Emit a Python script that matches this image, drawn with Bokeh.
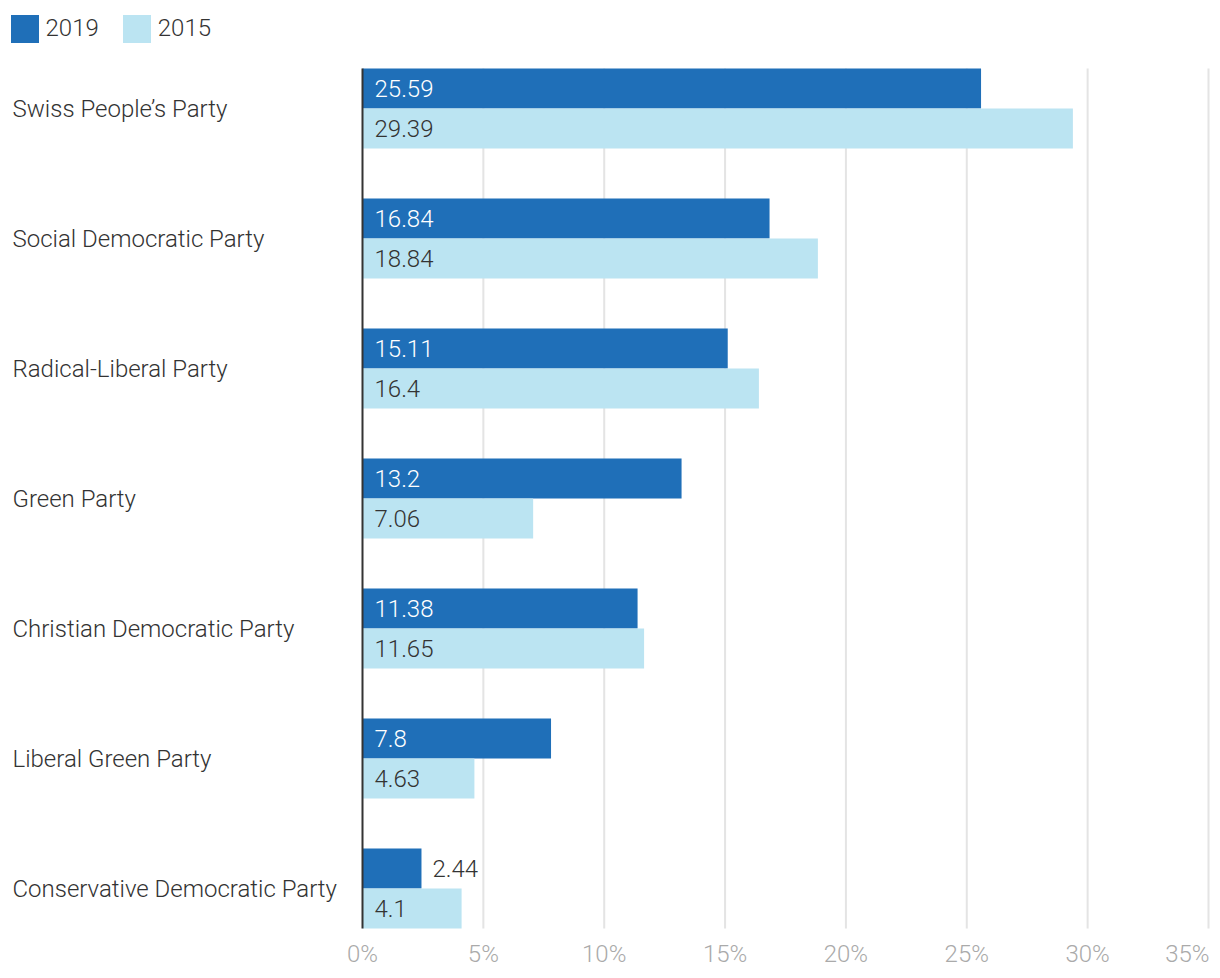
from bokeh.plotting import figure
from bokeh.models import ColumnDataSource, Legend, LegendItem, Range1d
from bokeh.core.properties import value
from bokeh.embed import file_html
from bokeh.resources import INLINE

# ---- data ----
parties = ["Swiss People’s Party", "Social Democratic Party", "Radical-Liberal Party",
           "Green Party", "Christian Democratic Party", "Liberal Green Party",
           "Conservative Democratic Party"]
share_2019 = [25.59, 16.84, 15.11, 13.2, 11.38, 7.8, 2.44]
share_2015 = [29.39, 18.84, 16.4, 7.06, 11.65, 4.63, 4.1]
label_2019 = ["25.59", "16.84", "15.11", "13.2", "11.38", "7.8", "2.44"]
label_2015 = ["29.39", "18.84", "16.4", "7.06", "11.65", "4.63", "4.1"]
series = ["2019", "2015"]
x_ticks = [0, 5, 10, 15, 20, 25, 30, 35]
x_tick_labels = ["0%", "5%", "10%", "15%", "20%", "25%", "30%", "35%"]

# ---- style / layout ----
FONT_NAME = "Roboto Light"
FONT = value(FONT_NAME)
FS = "24px"
C19 = "#1f6fb8"
C15 = "#bbe4f2"
TXT = "#333333"
TICK_TXT = "#aaaaaa"
GRID = "#e4e4e4"
W, H = 1220, 978
AREA_LEFT, AREA_RIGHT = 362, 1208      # pixel position of 0% and 35%
TOP_PX = 68                             # top of the first bar group
GROUP_PX, BAR_PX = 130.0, 40.0
n = len(parties)

ppu = (AREA_RIGHT - AREA_LEFT) / (x_ticks[-1] - x_ticks[0])
x_start = x_ticks[0] - AREA_LEFT / ppu
x_end = x_ticks[-1] + (W - AREA_RIGHT) / ppu
BAR = BAR_PX / GROUP_PX
y_top = -(TOP_PX + BAR_PX) / GROUP_PX
y_bottom = (H - TOP_PX - BAR_PX) / GROUP_PX

p = figure(width=W, height=H, output_backend="svg", toolbar_location=None,
           x_range=Range1d(x_start, x_end), y_range=Range1d(y_bottom, y_top),
           min_border=0)
p.outline_line_color = None
p.xaxis.visible = False
p.yaxis.visible = False
p.grid.visible = False

area_top = -BAR
area_bottom = n - 1 + BAR

# grid lines
p.segment(x0=x_ticks[1:], x1=x_ticks[1:], y0=[area_top] * (len(x_ticks) - 1),
          y1=[area_bottom] * (len(x_ticks) - 1), line_color=GRID, line_width=2)

idx = list(range(n))
y19 = [i - BAR / 2 for i in idx]
y15 = [i + BAR / 2 for i in idx]

src19 = ColumnDataSource(dict(y=y19, v=share_2019, t=label_2019))
src15 = ColumnDataSource(dict(y=y15, v=share_2015, t=label_2015))

r19 = p.hbar(y="y", right="v", left=0, height=BAR, source=src19,
             fill_color=C19, line_color=None)
r15 = p.hbar(y="y", right="v", left=0, height=BAR, source=src15,
             fill_color=C15, line_color=None)

# zero axis line
p.segment(x0=[x_ticks[0]], x1=[x_ticks[0]], y0=[area_top], y1=[area_bottom],
          line_color=TXT, line_width=2)

# value labels: inside the bar when they fit, otherwise just after its end
def value_labels(ys, vals, labs, inside_color):
    ins = dict(y=[], x=[], t=[])
    out = dict(y=[], x=[], t=[])
    for yy, vv, tt in zip(ys, vals, labs):
        if vv * ppu >= len(tt) * 12 + 24:
            ins["y"].append(yy); ins["x"].append(0); ins["t"].append(tt)
        else:
            out["y"].append(yy); out["x"].append(vv); out["t"].append(tt)
    p.text(x="x", y="y", text="t", source=ColumnDataSource(ins), x_offset=12,
           text_baseline="middle", text_align="left", text_font=FONT,
           text_font_size=FS, text_color=inside_color)
    p.text(x="x", y="y", text="t", source=ColumnDataSource(out), x_offset=11,
           text_baseline="middle", text_align="left", text_font=FONT,
           text_font_size=FS, text_color=TXT)

value_labels(y19, share_2019, label_2019, "white")
value_labels(y15, share_2015, label_2015, TXT)

# category labels at the left edge
p.text(x=[x_start] * n, y=idx, text=parties, x_offset=12, text_baseline="middle",
       text_align="left", text_font=FONT, text_font_size=FS, text_color=TXT)

# x tick labels
tick_y = area_bottom + 25.0 / GROUP_PX
p.text(x=x_ticks[:-1], y=[tick_y] * (len(x_ticks) - 1), text=x_tick_labels[:-1],
       text_baseline="middle", text_align="center", text_font=FONT,
       text_font_size=FS, text_color=TICK_TXT)
p.text(x=x_ticks[-1:], y=[tick_y], text=x_tick_labels[-1:], x_offset=1,
       text_baseline="middle", text_align="right", text_font=FONT,
       text_font_size=FS, text_color=TICK_TXT)

legend = Legend(items=[LegendItem(label=series[0], renderers=[r19]),
                       LegendItem(label=series[1], renderers=[r15])],
                location=(6.5, H - 45.5),
                orientation="horizontal", glyph_width=35, glyph_height=35,
                label_height=35, label_standoff=4, spacing=20, padding=0, margin=0,
                border_line_color=None, background_fill_alpha=0,
                label_text_font=FONT_NAME, label_text_font_size=FS,
                label_text_color=TXT, label_text_baseline="middle")
p.add_layout(legend)

open("out.html", "w").write(file_html(p, INLINE))
